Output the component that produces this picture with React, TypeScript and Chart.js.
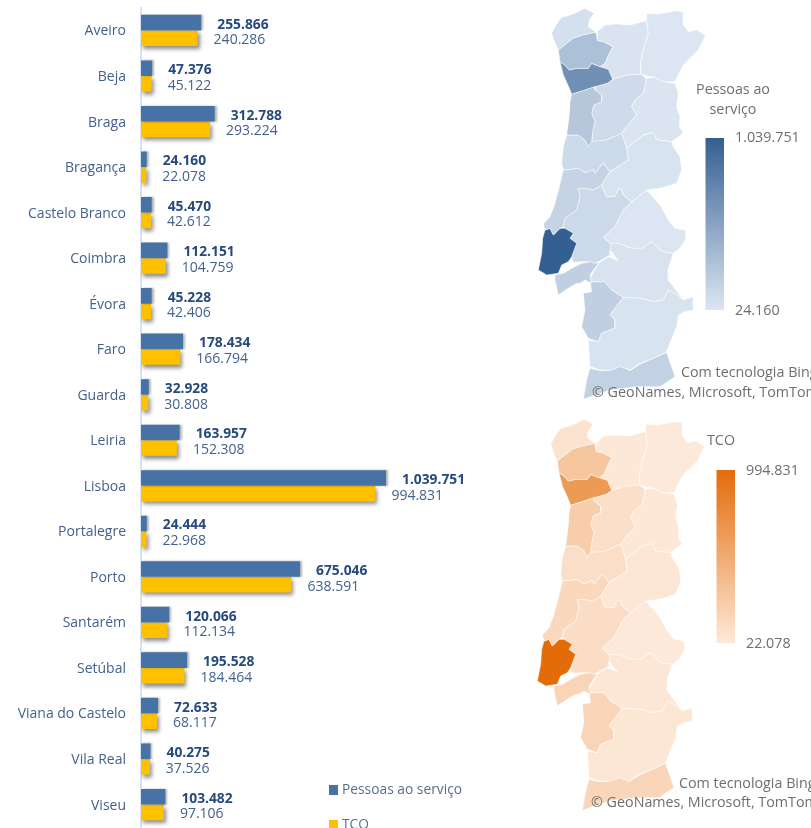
import React, { useEffect, useRef } from "react";
import { Chart, registerables } from "chart.js";

Chart.register(...registerables);

const FONT = '"Open Sans", sans-serif';

const districts = ["Aveiro", "Beja", "Braga", "Bragança", "Castelo Branco", "Coimbra", "Évora", "Faro", "Guarda", "Leiria", "Lisboa", "Portalegre", "Porto", "Santarém", "Setúbal", "Viana do Castelo", "Vila Real", "Viseu"];
const pessoasAoServico = [255866, 47376, 312788, 24160, 45470, 112151, 45228, 178434, 32928, 163957, 1039751, 24444, 675046, 120066, 195528, 72633, 40275, 103482];
const tco = [240286, 45122, 293224, 22078, 42612, 104759, 42406, 166794, 30808, 152308, 994831, 22968, 638591, 112134, 184464, 68117, 37526, 97106];
const seriesNames = ["Pessoas ao serviço", "TCO"];

// District outlines in arbitrary map units (x east, y south).
const outlines: Record<string, number[][][]> = {
  "Viana do Castelo": [[[95,100],[108,75],[125,52],[160,42],[195,25],[222,40],[208,60],[205,80],[228,97],[190,105],[160,115],[115,150],[105,130]]],
  "Vila Real": [[[232,95],[255,75],[290,72],[330,75],[380,62],[385,100],[370,150],[362,190],[362,222],[320,225],[278,238],[265,208],[240,200],[255,190],[265,165],[278,140],[250,125],[232,122]]],
  "Braga": [[[115,150],[160,115],[190,105],[228,97],[232,122],[250,125],[278,140],[265,165],[255,190],[240,200],[215,190],[205,205],[170,205],[148,210],[135,195],[120,185]]],
  "Porto": [[[120,185],[135,195],[148,210],[170,205],[205,205],[215,190],[240,200],[265,208],[278,238],[262,250],[225,260],[190,272],[155,283],[148,265],[130,225]]],
  "Bragança": [[[380,40],[410,42],[440,38],[465,32],[490,35],[490,75],[505,95],[530,90],[557,105],[535,150],[490,195],[465,245],[430,245],[405,232],[380,228],[362,222],[362,190],[370,150],[385,100],[380,62]]],
  "Viseu": [[[278,238],[320,225],[362,222],[378,235],[375,262],[370,280],[345,300],[335,320],[350,345],[320,380],[305,400],[260,420],[215,433],[218,395],[225,365],[215,340],[222,315],[245,305],[245,285],[225,270],[225,260],[262,250]]],
  "Aveiro": [[[155,283],[190,272],[225,260],[225,270],[245,285],[245,305],[222,315],[215,340],[225,365],[218,395],[215,425],[205,440],[195,420],[175,405],[140,405],[148,345],[150,305]]],
  "Guarda": [[[378,235],[405,232],[430,245],[465,250],[475,280],[470,320],[480,350],[478,380],[490,398],[455,425],[410,420],[400,398],[370,405],[345,425],[320,445],[305,400],[320,380],[350,345],[335,320],[345,300],[370,280],[375,262]]],
  "Coimbra": [[[140,405],[175,405],[195,420],[205,440],[215,425],[260,420],[305,400],[320,445],[325,480],[270,515],[250,488],[225,520],[220,508],[195,518],[175,505],[150,508],[130,510],[125,490],[130,440]]],
  "Castelo Branco": [[[320,445],[345,425],[370,405],[400,398],[410,420],[455,425],[460,440],[480,470],[485,510],[470,550],[420,565],[380,570],[335,605],[310,585],[305,570],[295,565],[285,590],[260,590],[245,555],[270,515],[325,480]]],
  "Leiria": [[[130,510],[150,508],[175,505],[195,518],[220,508],[225,520],[250,488],[270,515],[245,555],[220,570],[195,565],[175,565],[180,590],[170,630],[135,655],[130,680],[120,685],[100,705],[90,685],[75,690],[70,672],[90,650],[105,610],[118,560]]],
  "Santarém": [[[245,555],[260,590],[285,590],[295,565],[305,570],[310,585],[335,605],[310,630],[285,680],[250,712],[275,735],[268,760],[295,782],[270,765],[235,785],[225,790],[210,785],[185,785],[160,787],[155,770],[170,730],[150,715],[160,700],[135,685],[130,680],[135,655],[170,630],[180,590],[175,565],[195,565],[220,570]]],
  "Portalegre": [[[335,605],[380,570],[420,615],[445,660],[465,685],[495,690],[498,715],[480,745],[460,760],[425,755],[395,725],[365,745],[335,745],[295,730],[275,735],[250,712],[285,680],[310,630]]],
  "Lisboa": [[[75,690],[90,685],[100,705],[120,685],[135,685],[160,700],[150,715],[170,730],[155,770],[145,785],[125,795],[115,820],[80,825],[55,810],[65,760],[68,715]]],
  "Setúbal": [
    [[105,825],[130,820],[155,805],[185,790],[210,785],[235,790],[210,825],[215,850],[195,840],[180,850],[170,850],[145,865],[115,885],[105,840]],
    [[190,880],[215,875],[210,845],[255,845],[275,870],[310,892],[270,945],[285,960],[285,985],[245,1000],[235,1025],[205,1015],[185,980],[195,930]],
  ],
  "Évora": [[[210,835],[235,790],[265,770],[295,782],[270,750],[275,730],[295,730],[335,745],[365,745],[395,725],[425,755],[460,760],[445,805],[445,840],[490,900],[465,880],[445,870],[430,900],[400,905],[365,895],[310,892],[275,870],[255,845],[215,845]]],
  "Beja": [[[310,892],[365,895],[400,905],[430,900],[445,870],[465,880],[490,900],[520,890],[520,930],[495,935],[475,945],[470,980],[445,1040],[440,1055],[400,1075],[360,1090],[330,1110],[300,1100],[275,1110],[240,1110],[210,1100],[205,1020],[235,1025],[245,1000],[285,985],[285,960],[270,945]]],
  "Faro": [[[210,1105],[240,1112],[275,1110],[300,1097],[330,1112],[365,1090],[400,1075],[440,1057],[465,1130],[420,1160],[350,1160],[270,1170],[190,1198],[200,1140]]],
};

const fmt = (v: number) => String(v).replace(/\B(?=(\d{3})+(?!\d))/g, ".");

type RGB = [number, number, number];
const mix = (a: RGB, b: RGB, t: number) => `rgb(${a.map((c, i) => Math.round(c + (b[i] - c) * t)).join(",")})`;

const barLabelPlugin = {
  id: "barLabels",
  beforeDatasetDraw(chart: any, args: any) {
    const c = chart.ctx;
    c.save();
    if (args.index === 1) {
      c.shadowColor = "rgba(0,0,0,0.45)";
      c.shadowBlur = 4;
      c.shadowOffsetX = 2;
      c.shadowOffsetY = 3;
    } else {
      c.shadowColor = "rgba(0,0,0,0.3)";
      c.shadowBlur = 2;
      c.shadowOffsetX = 2;
      c.shadowOffsetY = 0;
    }
  },
  afterDatasetDraw(chart: any) {
    chart.ctx.restore();
  },
  afterDatasetsDraw(chart: any) {
    const c = chart.ctx;
    c.save();
    c.textBaseline = "middle";
    c.textAlign = "left";
    chart.data.datasets.forEach((ds: any, di: number) => {
      c.font = di === 0 ? `bold 13.8px ${FONT}` : `14px ${FONT}`;
      c.fillStyle = di === 0 ? "#264a7c" : "#44618e";
      chart.getDatasetMeta(di).data.forEach((bar: any, i: number) => {
        c.fillText(fmt(ds.data[i]), bar.x + 16, bar.y + 2);
      });
      const ly = di === 0 ? 790 : 825;
      c.fillStyle = ds.backgroundColor;
      c.fillRect(329, ly - 5, 9, 10);
      c.font = `13.8px ${FONT}`;
      c.fillStyle = "#5a6e8c";
      c.fillText(ds.label, 342, ly);
    });
    c.restore();
  },
};

const mapPlugin = {
  id: "mapDecor",
  afterDraw(chart: any, _a: any, o: any) {
    const c = chart.ctx;
    c.save();
    const g = c.createLinearGradient(0, o.bar[1], 0, o.bar[3]);
    g.addColorStop(0, o.high);
    g.addColorStop(1, o.low);
    c.fillStyle = g;
    c.fillRect(o.bar[0], o.bar[1], o.bar[2] - o.bar[0], o.bar[3] - o.bar[1]);
    c.fillStyle = "#6e6e6e";
    c.textBaseline = "middle";
    c.textAlign = "left";
    c.font = `14.3px ${FONT}`;
    o.texts.forEach((t: any) => {
      c.textAlign = t.align || "left";
      c.fillText(t.s, t.x, t.y);
    });
    c.restore();
  },
};

function BarPanel() {
  const ref = useRef<HTMLCanvasElement>(null);
  useEffect(() => {
    const chart = new Chart(ref.current!, {
      type: "bar",
      data: {
        labels: districts,
        datasets: [
          { label: seriesNames[0], data: pessoasAoServico, backgroundColor: "#4672a6" },
          { label: seriesNames[1], data: tco, backgroundColor: "#ffc000" },
        ],
      },
      options: {
        indexAxis: "y",
        responsive: false,
        animation: false,
        layout: { padding: { top: 7.7, bottom: 0.7, left: 0, right: 0 } },
        plugins: { legend: { display: false }, tooltip: { enabled: false }, title: { display: false } },
        datasets: { bar: { categoryPercentage: 0.685, barPercentage: 1 } },
        scales: {
          x: { display: false, min: 0, max: 1608450 },
          y: {
            grid: { display: false, drawTicks: false },
            border: { color: "#d5e3f5", width: 2 },
            ticks: { color: "#44618e", font: { family: FONT, size: 14 }, padding: 15, autoSkip: false, labelOffset: 1 },
            afterFit: (s: any) => { s.width = 141; s.paddingTop = 0; s.paddingBottom = 0; },
          },
        },
      } as any,
      plugins: [barLabelPlugin],
    } as any);
    return () => chart.destroy();
  }, []);
  return <canvas ref={ref} width={520} height={828} style={{ position: "absolute", left: 0, top: 0 }} />;
}

function MapPanel({ values, low, high, left, top, width, height, bar, texts }: any) {
  const ref = useRef<HTMLCanvasElement>(null);
  useEffect(() => {
    const vmin = Math.min(...values);
    const vmax = Math.max(...values);
    const datasets: any[] = [];
    districts.forEach((d, i) => {
      const t = (values[i] - vmin) / (vmax - vmin);
      (outlines[d] || []).forEach((ring) => {
        datasets.push({
          label: d,
          data: [...ring, ring[0]].map(([x, y]) => ({ x, y })),
          showLine: true,
          fill: "shape",
          tension: 0,
          backgroundColor: mix(low, high, t),
          borderColor: "rgba(255,255,255,0.75)",
          borderWidth: 0.7,
          pointRadius: 0,
        });
      });
    });
    const lowCss = mix(low, high, 0);
    const highCss = mix(low, high, 1);
    const chart = new Chart(ref.current!, {
      type: "scatter",
      data: { datasets },
      options: {
        responsive: false,
        animation: false,
        layout: { padding: 0 },
        plugins: {
          legend: { display: false },
          tooltip: { enabled: false },
          mapDecor: { bar, texts, low: lowCss, high: highCss },
        },
        scales: {
          x: { display: false, min: 0, max: width * 3 },
          y: { display: false, min: 0, max: height * 3, reverse: true },
        },
      } as any,
      plugins: [mapPlugin],
    } as any);
    return () => chart.destroy();
  }, []);
  return <canvas ref={ref} width={width} height={height} style={{ position: "absolute", left, top }} />;
}

export default function App() {
  return (
    <div style={{ position: "fixed", left: 0, top: 0, width: 811, height: 828, overflow: "hidden", background: "#fff", filter: "blur(0.4px)" }}>
      <BarPanel />
      <MapPanel
        values={pessoasAoServico}
        low={[220, 230, 242]}
        high={[52, 95, 146]}
        left={520}
        top={0}
        width={291}
        height={411}
        bar={[185.5, 138, 204, 310]}
        texts={[
          { s: "Pessoas ao", x: 213, y: 90, align: "center" },
          { s: "serviço", x: 213, y: 110, align: "center" },
          { s: "1.039.751", x: 215, y: 138 },
          { s: "24.160", x: 215, y: 311 },
          { s: "Com tecnologia Bing", x: 161, y: 373 },
          { s: "© GeoNames, Microsoft, TomTom", x: 72, y: 393 },
        ]}
      />
      <MapPanel
        values={tco}
        low={[253, 233, 217]}
        high={[227, 108, 9]}
        left={519}
        top={411}
        width={292}
        height={417}
        bar={[197.5, 59, 216, 232]}
        texts={[
          { s: "TCO", x: 188, y: 30 },
          { s: "994.831", x: 227, y: 60 },
          { s: "22.078", x: 227, y: 233 },
          { s: "Com tecnologia Bing", x: 160, y: 373 },
          { s: "© GeoNames, Microsoft, TomTom", x: 72, y: 392 },
        ]}
      />
    </div>
  );
}
